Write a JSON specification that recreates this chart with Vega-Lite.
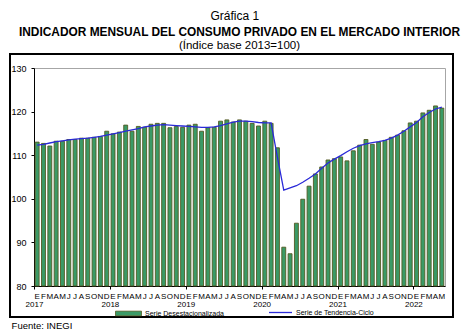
{
  "$schema": "https://vega.github.io/schema/vega-lite/v6.json",
  "padding": {"left": 8, "top": 9, "right": 8, "bottom": 0},
  "background": "white",
  "config": {
    "font": "Liberation Sans",
    "view": {"stroke": "#a6a6a6", "strokeWidth": 1},
    "axis": {"labelFont": "Liberation Sans", "labelColor": "black", "domainColor": "black", "tickColor": "black", "labelFontSize": 9, "grid": false},
    "legend": {"labelFont": "Liberation Sans", "labelColor": "black", "labelFontSize": 7, "padding": 0},
    "title": {"font": "Liberation Sans", "color": "black", "subtitleFont": "Liberation Sans", "subtitleColor": "black"},
    "concat": {"spacing": 0}
  },
  "title": {"text": "Fuente: INEGI", "orient": "bottom", "anchor": "start", "fontSize": 9.5, "fontWeight": "normal", "offset": 3, "dx": 3},
  "vconcat": [{
    "title": {"text": "Gráfica 1", "fontSize": 12, "fontWeight": "normal", "anchor": "middle", "offset": 3},
    "vconcat": [{
      "title": {"text": "INDICADOR MENSUAL DEL CONSUMO PRIVADO EN EL MERCADO INTERIOR", "subtitle": "(Índice base 2013=100)", "fontSize": 11.9, "fontWeight": "bold", "subtitleFontSize": 11.5, "anchor": "middle", "offset": 1, "subtitlePadding": 1},
      "width": 411,
      "height": 218,
      "data": {"values": [
        {"m": "2017-01", "v": 113.0, "t": 112.3},
        {"m": "2017-02", "v": 112.7, "t": 112.5},
        {"m": "2017-03", "v": 112.1, "t": 112.8},
        {"m": "2017-04", "v": 113.2, "t": 113.1},
        {"m": "2017-05", "v": 113.2, "t": 113.3},
        {"m": "2017-06", "v": 113.6, "t": 113.5},
        {"m": "2017-07", "v": 113.6, "t": 113.7},
        {"m": "2017-08", "v": 113.9, "t": 113.8},
        {"m": "2017-09", "v": 113.9, "t": 113.9},
        {"m": "2017-10", "v": 114.1, "t": 114.1},
        {"m": "2017-11", "v": 114.3, "t": 114.3},
        {"m": "2017-12", "v": 115.5, "t": 114.6},
        {"m": "2018-01", "v": 114.9, "t": 114.9},
        {"m": "2018-02", "v": 115.3, "t": 115.2},
        {"m": "2018-03", "v": 116.9, "t": 115.5},
        {"m": "2018-04", "v": 115.5, "t": 115.8},
        {"m": "2018-05", "v": 116.6, "t": 116.1},
        {"m": "2018-06", "v": 116.4, "t": 116.5},
        {"m": "2018-07", "v": 117.1, "t": 116.7},
        {"m": "2018-08", "v": 117.3, "t": 116.9},
        {"m": "2018-09", "v": 117.3, "t": 117.0},
        {"m": "2018-10", "v": 116.3, "t": 116.9},
        {"m": "2018-11", "v": 116.6, "t": 116.8},
        {"m": "2018-12", "v": 116.4, "t": 116.7},
        {"m": "2019-01", "v": 116.9, "t": 116.6},
        {"m": "2019-02", "v": 117.1, "t": 116.5},
        {"m": "2019-03", "v": 115.5, "t": 116.4},
        {"m": "2019-04", "v": 116.3, "t": 116.4},
        {"m": "2019-05", "v": 116.4, "t": 116.5},
        {"m": "2019-06", "v": 117.8, "t": 116.8},
        {"m": "2019-07", "v": 118.1, "t": 117.2},
        {"m": "2019-08", "v": 117.6, "t": 117.6},
        {"m": "2019-09", "v": 118.1, "t": 117.8},
        {"m": "2019-10", "v": 117.8, "t": 117.8},
        {"m": "2019-11", "v": 117.3, "t": 117.7},
        {"m": "2019-12", "v": 116.7, "t": 117.5},
        {"m": "2020-01", "v": 117.8, "t": 117.4},
        {"m": "2020-02", "v": 117.3, "t": 117.4},
        {"m": "2020-03", "v": 111.7, "t": 109.5},
        {"m": "2020-04", "v": 88.9, "t": 102.0},
        {"m": "2020-05", "v": 87.4, "t": 102.5},
        {"m": "2020-06", "v": 94.4, "t": 103.0},
        {"m": "2020-07", "v": 99.9, "t": 103.8},
        {"m": "2020-08", "v": 102.9, "t": 104.7},
        {"m": "2020-09", "v": 105.7, "t": 105.7},
        {"m": "2020-10", "v": 107.3, "t": 107.0},
        {"m": "2020-11", "v": 108.9, "t": 108.2},
        {"m": "2020-12", "v": 109.2, "t": 109.1},
        {"m": "2021-01", "v": 109.6, "t": 109.9},
        {"m": "2021-02", "v": 108.7, "t": 110.8},
        {"m": "2021-03", "v": 111.0, "t": 111.6},
        {"m": "2021-04", "v": 112.3, "t": 112.2},
        {"m": "2021-05", "v": 113.6, "t": 112.6},
        {"m": "2021-06", "v": 112.5, "t": 112.9},
        {"m": "2021-07", "v": 113.0, "t": 113.1},
        {"m": "2021-08", "v": 113.4, "t": 113.4},
        {"m": "2021-09", "v": 114.1, "t": 113.9},
        {"m": "2021-10", "v": 114.6, "t": 114.6},
        {"m": "2021-11", "v": 115.6, "t": 115.5},
        {"m": "2021-12", "v": 117.4, "t": 116.5},
        {"m": "2022-01", "v": 117.8, "t": 117.5},
        {"m": "2022-02", "v": 119.7, "t": 118.8},
        {"m": "2022-03", "v": 120.3, "t": 119.8},
        {"m": "2022-04", "v": 121.3, "t": 120.6},
        {"m": "2022-05", "v": 120.8, "t": 121.0}
      ]},
      "layer": [
        {
          "mark": {"type": "rect", "fill": "white", "fillOpacity": 0.001, "stroke": "black", "strokeWidth": 1.2},
          "encoding": {
            "x": {"datum": -3.843, "type": "quantitative", "scale": {"domain": [0, 65], "nice": false, "zero": false},
                  "axis": {"orient": "bottom", "values": [0, 12, 24, 36, 48, 60], "labelExpr": "'' + (2017 + datum.value / 12)", "title": null, "domain": false, "ticks": true, "tickSize": 3, "labelPadding": 11, "labelFontSize": 8, "labelFlush": false, "labelOverlap": false, "grid": false}},
            "x2": {"datum": 66.31},
            "y": {"datum": 72.82, "type": "quantitative"},
            "y2": {"datum": 133.14}
          }
        },
        {
          "layer": [
            {
              "mark": {"type": "bar", "stroke": "#545a22", "strokeWidth": 0.9},
              "encoding": {
                "x": {"field": "m", "type": "ordinal", "sort": null,
                      "scale": {"type": "band", "paddingInner": 0.38, "paddingOuter": 0.19},
                      "axis": {"orient": "bottom", "title": null, "ticks": false, "domain": true, "labelAngle": 0, "labelPadding": 6, "labelFontSize": 8, "labelOverlap": false,
                               "labelExpr": "['E','F','M','A','M','J','J','A','S','O','N','D'][toNumber(substring(datum.value, 5, 7)) - 1]"}},
                "y": {"field": "v", "type": "quantitative", "scale": {"domain": [80, 130], "nice": false, "zero": false},
                      "axis": {"values": [80, 90, 100, 110, 120, 130], "title": null, "tickSize": 3, "labelPadding": 5, "domain": true, "grid": false}},
                "y2": {"datum": 80},
                "fill": {"datum": "Serie Desestacionalizada", "type": "nominal", "scale": {"range": ["#3a9a66"]},
                         "legend": {"title": null, "orient": "none", "legendX": 81, "legendY": 232, "symbolType": "M-1,-0.18H1V0.18H-1Z", "symbolSize": 676, "symbolStrokeColor": "#545a22", "symbolStrokeWidth": 0.8, "symbolOpacity": 1, "labelOffset": 3}}
              }
            },
            {
              "mark": {"type": "line", "strokeWidth": 1.3},
              "encoding": {
                "x": {"field": "m", "type": "ordinal", "sort": null, "scale": {"type": "band", "paddingInner": 0.38, "paddingOuter": 0.19}},
                "y": {"field": "t", "type": "quantitative"},
                "stroke": {"datum": "Serie de Tendencia-Ciclo", "type": "nominal", "scale": {"range": ["#2a2ad8"]},
                           "legend": {"title": null, "orient": "none", "legendX": 234, "legendY": 232, "symbolType": "stroke", "symbolSize": 529, "symbolStrokeWidth": 1.3, "labelOffset": 3}}
              }
            }
          ]
        }
      ],
      "resolve": {"scale": {"x": "independent"}}
    }]
  }]
}
